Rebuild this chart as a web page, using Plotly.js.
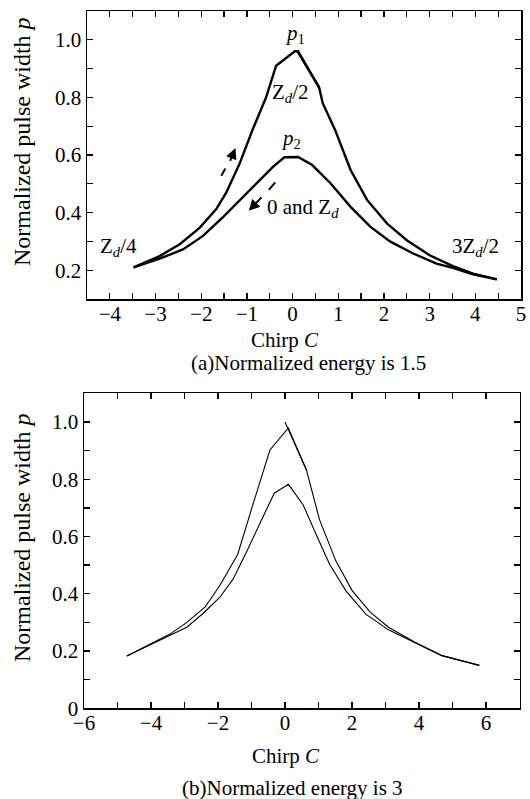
<!DOCTYPE html>
<html>
<head>
<meta charset="utf-8">
<script src="https://cdn.plot.ly/plotly-3.0.1.min.js"></script>
<style>
html,body{margin:0;padding:0;background:#fff;}
#chart{width:530px;height:799px;}
</style>
</head>
<body>
<div id="chart"></div>
<script>
// ---- (a) Normalized energy 1.5 ----
const a_upper_C = [-3.48, -2.91, -2.47, -2.03, -1.67, -1.45, -1.16, -0.87, -0.58, -0.36, 0.05, 0.12, 0.45, 0.58, 0.66, 0.93, 1.27, 1.63, 2.07, 2.5, 3.0, 3.51, 3.95, 4.47];
const a_upper_p = [0.21, 0.249, 0.29, 0.348, 0.412, 0.47, 0.57, 0.69, 0.80, 0.91, 0.96, 0.96, 0.87, 0.835, 0.78, 0.687, 0.548, 0.444, 0.362, 0.304, 0.252, 0.214, 0.188, 0.168];
const a_loop_C = [0.1, 0.58];
const a_loop_p = [0.962, 0.835];
const a_lower_C = [-3.48, -2.91, -2.40, -1.96, -1.53, -1.09, -0.65, -0.43, -0.18, 0.0, 0.12, 0.43, 0.83, 1.27, 1.7, 2.14, 2.64, 3.15, 3.51, 3.95, 4.47];
const a_lower_p = [0.21, 0.24, 0.272, 0.319, 0.383, 0.452, 0.522, 0.559, 0.592, 0.593, 0.593, 0.565, 0.502, 0.42, 0.351, 0.299, 0.258, 0.223, 0.208, 0.186, 0.168];

// ---- (b) Normalized energy 3 ----
const b_upper_C = [-4.72, -4.01, -3.42, -2.93, -2.39, -1.95, -1.41, -0.96, -0.45, 0.1, 0.64, 1.03, 1.52, 2.01, 2.55, 3.09, 3.88, 4.67, 5.8];
const b_upper_p = [0.183, 0.225, 0.26, 0.30, 0.353, 0.428, 0.538, 0.711, 0.902, 0.979, 0.832, 0.659, 0.514, 0.41, 0.335, 0.283, 0.231, 0.185, 0.150];
const b_spike_C = [0.0, 0.64];
const b_spike_p = [1.0, 0.832];
const b_lower_C = [-4.72, -4.01, -3.42, -2.93, -2.44, -1.95, -1.55, -1.16, -0.72, -0.32, 0.1, 0.54, 0.93, 1.33, 1.82, 2.41, 3.09, 3.88, 4.67, 5.8];
const b_lower_p = [0.183, 0.222, 0.254, 0.283, 0.332, 0.387, 0.451, 0.543, 0.653, 0.751, 0.782, 0.711, 0.607, 0.503, 0.41, 0.329, 0.274, 0.229, 0.184, 0.150];

// annotation labels (a)
const a_labels = ["<i>p</i><sub>1</sub>", "Z<sub><i>d</i></sub>/2", "<i>p</i><sub>2</sub>", "0 and Z<sub><i>d</i></sub>", "Z<sub><i>d</i></sub>/4", "3Z<sub><i>d</i></sub>/2"];
const a_label_C = [0.05, -0.05, -0.04, 0.22, -3.8, 4.0];
const a_label_p = [1.02, 0.815, 0.655, 0.415, 0.28, 0.28];

// arrows (a): dash segment and arrow segment  [x0,y0,x1,y1]
const a_dash_segs = [[-1.56, 0.528, -1.47, 0.553], [-0.38, 0.505, -0.52, 0.479]];
const a_arrow_segs = [[-1.38, 0.574, -1.25, 0.624], [-0.65, 0.458, -0.96, 0.406]];

const FONT = '"Liberation Serif", "Times New Roman", serif';
const W = 530, H = 799;

const lineA = {color: "#000", width: 2.4};
const lineB = {color: "#000", width: 1.1};

const traces = [
  {x: a_upper_C, y: a_upper_p, mode: "lines", line: lineA, xaxis: "x", yaxis: "y"},
  {x: a_loop_C, y: a_loop_p, mode: "lines", line: lineA, xaxis: "x", yaxis: "y"},
  {x: a_lower_C, y: a_lower_p, mode: "lines", line: lineA, xaxis: "x", yaxis: "y"},
  {x: b_upper_C, y: b_upper_p, mode: "lines", line: lineB, xaxis: "x2", yaxis: "y2"},
  {x: b_spike_C, y: b_spike_p, mode: "lines", line: lineB, xaxis: "x2", yaxis: "y2"},
  {x: b_lower_C, y: b_lower_p, mode: "lines", line: lineB, xaxis: "x2", yaxis: "y2"}
];

const axBase = {
  showgrid: false, zeroline: false, showline: true, linecolor: "#000", linewidth: 1.5,
  mirror: "ticks", ticks: "inside", ticklen: 6, tickwidth: 1.3, tickcolor: "#000",
  tickfont: {family: FONT, size: 21, color: "#000"}, fixedrange: true
};
function ax(extra) { return Object.assign({}, axBase, extra); }

const annotations = [];
a_labels.forEach((t, i) => annotations.push({
  x: a_label_C[i], y: a_label_p[i], xref: "x", yref: "y", text: t, showarrow: false,
  xanchor: "center", yanchor: "middle",
  font: {family: FONT, size: 21, color: "#000"}
}));
a_arrow_segs.forEach(s => annotations.push({
  x: s[2], y: s[3], ax: s[0], ay: s[1], xref: "x", yref: "y", axref: "x", ayref: "y",
  text: "", showarrow: true, arrowhead: 2, arrowsize: 1.1, arrowwidth: 2, arrowcolor: "#000"
}));
function paperText(text, px, py, size, angle) {
  return {x: px / W, y: 1 - py / H, xref: "paper", yref: "paper", text: text, showarrow: false,
    xanchor: "center", yanchor: "middle",
    textangle: angle || 0, font: {family: FONT, size: size, color: "#000"}};
}
annotations.push(paperText("Normalized pulse width <i>p</i>", 22, 142, 24, -90));
annotations.push(paperText("Chirp <i>C</i>", 285, 340, 21));
annotations.push(paperText("(a)Normalized energy is 1.5", 308, 363, 21));
annotations.push(paperText("Normalized pulse width <i>p</i>", 22, 538, 24, -90));
annotations.push(paperText("Chirp <i>C</i>", 286, 756, 21));
annotations.push(paperText("(b)Normalized energy is 3", 292, 788, 21));

const shapes = a_dash_segs.map(s => ({
  type: "line", xref: "x", yref: "y", x0: s[0], y0: s[1], x1: s[2], y1: s[3],
  line: {color: "#000", width: 2}
}));

const layout = {
  width: W, height: H, margin: {l: 0, r: 0, t: 0, b: 0},
  paper_bgcolor: "#fff", plot_bgcolor: "#fff", showlegend: false,
  font: {family: FONT, color: "#000"},
  xaxis: ax({domain: [87 / W, 521 / W], range: [-4.5, 5], anchor: "y", tick0: 0, dtick: 1, ticklabelstandoff: -5,
    minor: {dtick: 0.5, tick0: 0, ticks: "inside", ticklen: 6, tickwidth: 1.3, tickcolor: "#000"}}),
  yaxis: ax({domain: [1 - 299 / H, 1 - 11 / H], range: [0.1, 1.1], anchor: "x", tick0: 0, dtick: 0.2, tickformat: ".1f",
    minor: {dtick: 0.1, tick0: 0, ticks: "inside", ticklen: 6, tickwidth: 1.3, tickcolor: "#000"}}),
  xaxis2: ax({domain: [84 / W, 519.5 / W], range: [-6, 7], anchor: "y2", tick0: 0, dtick: 2, ticklabelstandoff: -5,
    minor: {dtick: 1, tick0: 0, ticks: "inside", ticklen: 6, tickwidth: 1.3, tickcolor: "#000"}}),
  yaxis2: ax({domain: [1 - 708.3 / H, 1 - 393.3 / H], range: [0, 1.1], anchor: "x2", tick0: 0, dtick: 0.2, tickformat: ".1f",
    labelalias: {"0.0": "0"},
    minor: {dtick: 0.1, tick0: 0, ticks: "inside", ticklen: 6, tickwidth: 1.3, tickcolor: "#000"}}),
  annotations: annotations,
  shapes: shapes
};

Plotly.newPlot("chart", traces, layout, {staticPlot: true, displayModeBar: false});
</script>
</body>
</html>
